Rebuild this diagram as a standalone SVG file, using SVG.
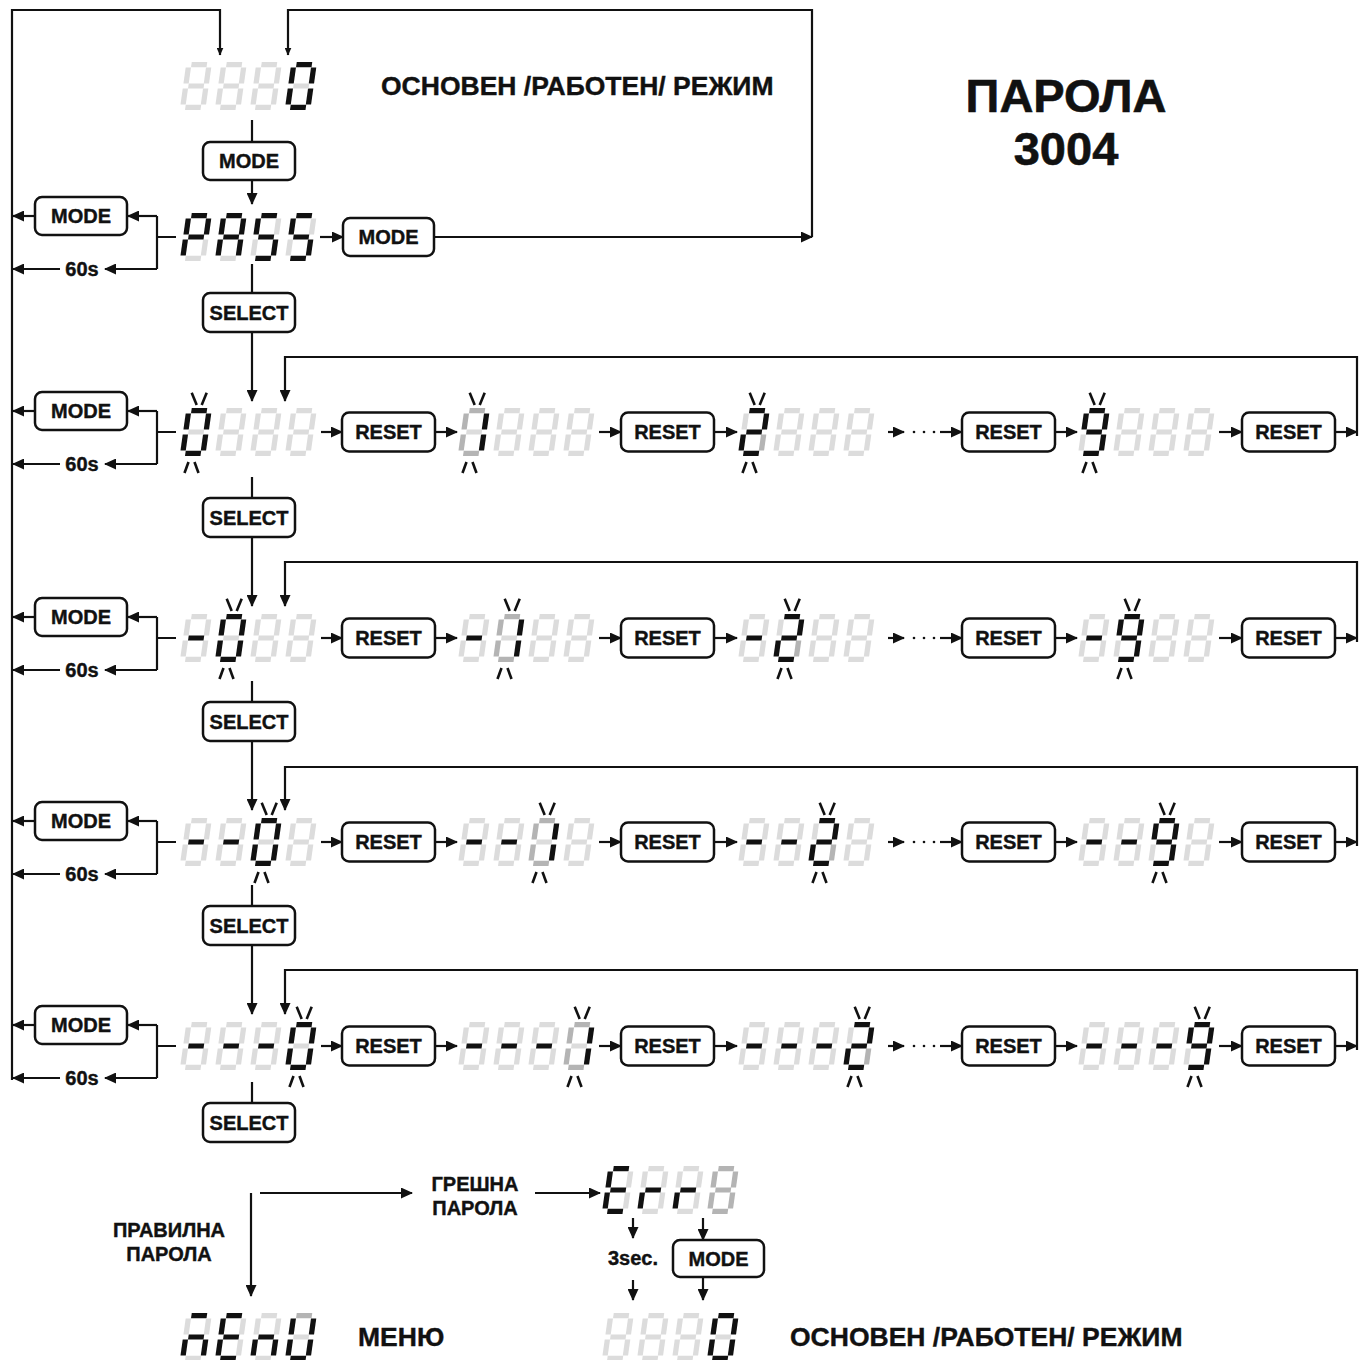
<svg xmlns="http://www.w3.org/2000/svg" width="1366" height="1360" viewBox="0 0 1366 1360">
<style>
.K{fill:#111}
.L{fill:#dcdcdc}
.M{fill:#b4b4b4}
.box{fill:#fff;stroke:#111;stroke-width:2.5}
.t{font-family:"Liberation Sans",Arial,sans-serif;font-weight:bold;font-size:20px;fill:#111;stroke:#111;stroke-width:0.4;text-anchor:middle}
.big{font-size:26.5px;text-anchor:start}
.title{font-size:47px;stroke-width:0.6}
.c{fill:none;stroke:#111;stroke-width:2.2}
.a{marker-end:url(#ah)}
.s{marker-end:url(#as)}
</style>
<defs>
<marker id="ah" viewBox="0 0 12 11" refX="11" refY="5.5" markerWidth="12" markerHeight="11" markerUnits="userSpaceOnUse" orient="auto"><path d="M0,0 L12,5.5 L0,11 z" fill="#111"/></marker>
<marker id="as" viewBox="0 0 8 7" refX="7.5" refY="3.5" markerWidth="8" markerHeight="7" markerUnits="userSpaceOnUse" orient="auto"><path d="M0,0 L8,3.5 L0,7 z" fill="#111"/></marker>
<rect id="sa" x="5" y="0" width="15.5" height="5.2"/>
<rect id="sb" x="20" y="5.5" width="5.3" height="16"/>
<rect id="sc" x="20" y="26.5" width="5.3" height="16"/>
<rect id="sd" x="5" y="42.8" width="15.5" height="5.2"/>
<rect id="se" x="-0.3" y="26.5" width="5.3" height="16"/>
<rect id="sf" x="-0.3" y="5.5" width="5.3" height="16"/>
<rect id="sg" x="5" y="21.4" width="15.5" height="5.2"/>
<g id="c8" transform="translate(6.75,0) skewX(-8)"><use href="#sa" class="L"/><use href="#sb" class="L"/><use href="#sc" class="L"/><use href="#sd" class="L"/><use href="#se" class="L"/><use href="#sf" class="L"/><use href="#sg" class="L"/></g>
<g id="c8m" transform="translate(6.75,0) skewX(-8)"><use href="#sa" class="M"/><use href="#sb" class="M"/><use href="#sc" class="M"/><use href="#sd" class="M"/><use href="#se" class="M"/><use href="#sf" class="M"/><use href="#sg" class="M"/></g>
<g id="c0" transform="translate(6.75,0) skewX(-8)"><use href="#sa" class="K"/><use href="#sb" class="K"/><use href="#sc" class="K"/><use href="#sd" class="K"/><use href="#se" class="K"/><use href="#sf" class="K"/><use href="#sg" class="L"/></g>
<g id="c1" transform="translate(6.75,0) skewX(-8)"><use href="#sa" class="M"/><use href="#sb" class="K"/><use href="#sc" class="K"/><use href="#sd" class="M"/><use href="#se" class="M"/><use href="#sf" class="M"/><use href="#sg" class="L"/></g>
<g id="c2" transform="translate(6.75,0) skewX(-8)"><use href="#sa" class="K"/><use href="#sb" class="K"/><use href="#sc" class="M"/><use href="#sd" class="K"/><use href="#se" class="K"/><use href="#sf" class="L"/><use href="#sg" class="K"/></g>
<g id="c9" transform="translate(6.75,0) skewX(-8)"><use href="#sa" class="K"/><use href="#sb" class="K"/><use href="#sc" class="K"/><use href="#sd" class="K"/><use href="#se" class="L"/><use href="#sf" class="K"/><use href="#sg" class="K"/></g>
<g id="cm" transform="translate(6.75,0) skewX(-8)"><use href="#sa" class="L"/><use href="#sb" class="L"/><use href="#sc" class="L"/><use href="#sd" class="L"/><use href="#se" class="L"/><use href="#sf" class="L"/><use href="#sg" class="K"/></g>
<g id="cP" transform="translate(6.75,0) skewX(-8)"><use href="#sa" class="K"/><use href="#sb" class="K"/><use href="#sc" class="L"/><use href="#sd" class="L"/><use href="#se" class="K"/><use href="#sf" class="K"/><use href="#sg" class="K"/></g>
<g id="cA" transform="translate(6.75,0) skewX(-8)"><use href="#sa" class="K"/><use href="#sb" class="K"/><use href="#sc" class="K"/><use href="#sd" class="L"/><use href="#se" class="K"/><use href="#sf" class="K"/><use href="#sg" class="K"/></g>
<g id="cS" transform="translate(6.75,0) skewX(-8)"><use href="#sa" class="K"/><use href="#sb" class="L"/><use href="#sc" class="K"/><use href="#sd" class="K"/><use href="#se" class="L"/><use href="#sf" class="K"/><use href="#sg" class="K"/></g>
<g id="cE" transform="translate(6.75,0) skewX(-8)"><use href="#sa" class="K"/><use href="#sb" class="L"/><use href="#sc" class="L"/><use href="#sd" class="K"/><use href="#se" class="K"/><use href="#sf" class="K"/><use href="#sg" class="K"/></g>
<g id="cr" transform="translate(6.75,0) skewX(-8)"><use href="#sa" class="L"/><use href="#sb" class="L"/><use href="#sc" class="L"/><use href="#sd" class="L"/><use href="#se" class="K"/><use href="#sf" class="L"/><use href="#sg" class="K"/></g>
<g id="cN1" transform="translate(6.75,0) skewX(-8)"><use href="#sa" class="K"/><use href="#sb" class="L"/><use href="#sc" class="K"/><use href="#sd" class="L"/><use href="#se" class="K"/><use href="#sf" class="L"/><use href="#sg" class="K"/></g>
<g id="cN" transform="translate(6.75,0) skewX(-8)"><use href="#sa" class="L"/><use href="#sb" class="L"/><use href="#sc" class="K"/><use href="#sd" class="L"/><use href="#se" class="K"/><use href="#sf" class="L"/><use href="#sg" class="K"/></g>
<g id="cU" transform="translate(6.75,0) skewX(-8)"><use href="#sa" class="M"/><use href="#sb" class="K"/><use href="#sc" class="K"/><use href="#sd" class="K"/><use href="#se" class="K"/><use href="#sf" class="K"/><use href="#sg" class="L"/></g>
<g id="blink" stroke="#111" stroke-width="2.6" fill="none">
<line x1="11.7" y1="-15.3" x2="16.7" y2="-3"/><line x1="26.7" y1="-15.3" x2="21.7" y2="-3"/>
<line x1="4.5" y1="65" x2="8.5" y2="54"/><line x1="18.5" y1="65" x2="14.5" y2="54"/>
</g>
</defs>
<rect width="1366" height="1360" fill="#fff"/>

<g id="connectors" class="c">
<path class="s" d="M12,1080 V10 H220 V55"/>
<path class="s" d="M812,237 V10 H288 V55"/>
<line x1="252" y1="120" x2="252" y2="142"/>
<line class="a" x1="252" y1="180" x2="252" y2="204"/>
<line class="a" x1="320" y1="237" x2="343" y2="237"/>
<line class="a" x1="434" y1="237" x2="812" y2="237"/>
<path d="M176,237 H157 M157,216 V269"/>
<line class="a" x1="157" y1="216" x2="128" y2="216"/><line class="a" x1="157" y1="269" x2="105" y2="269"/>
<line class="a" x1="35" y1="216" x2="13" y2="216"/><line class="a" x1="60" y1="269" x2="13" y2="269"/>
<path d="M176,432 H157 M157,411 V464"/>
<line class="a" x1="157" y1="411" x2="128" y2="411"/><line class="a" x1="157" y1="464" x2="105" y2="464"/>
<line class="a" x1="35" y1="411" x2="13" y2="411"/><line class="a" x1="60" y1="464" x2="13" y2="464"/>
<path d="M176,638 H157 M157,617 V670"/>
<line class="a" x1="157" y1="617" x2="128" y2="617"/><line class="a" x1="157" y1="670" x2="105" y2="670"/>
<line class="a" x1="35" y1="617" x2="13" y2="617"/><line class="a" x1="60" y1="670" x2="13" y2="670"/>
<path d="M176,842 H157 M157,821 V874"/>
<line class="a" x1="157" y1="821" x2="128" y2="821"/><line class="a" x1="157" y1="874" x2="105" y2="874"/>
<line class="a" x1="35" y1="821" x2="13" y2="821"/><line class="a" x1="60" y1="874" x2="13" y2="874"/>
<path d="M176,1046 H157 M157,1025 V1078"/>
<line class="a" x1="157" y1="1025" x2="128" y2="1025"/><line class="a" x1="157" y1="1078" x2="105" y2="1078"/>
<line class="a" x1="35" y1="1025" x2="13" y2="1025"/><line class="a" x1="60" y1="1078" x2="13" y2="1078"/>
<line x1="252" y1="264" x2="252" y2="293"/>
<line class="a" x1="252" y1="332" x2="252" y2="401"/>
<line x1="252" y1="477" x2="252" y2="498"/>
<line class="a" x1="252" y1="537" x2="252" y2="606"/>
<line x1="252" y1="681" x2="252" y2="702"/>
<line class="a" x1="252" y1="741" x2="252" y2="810"/>
<line x1="252" y1="885" x2="252" y2="906"/>
<line class="a" x1="252" y1="945" x2="252" y2="1014"/>
<line x1="252" y1="1082" x2="252" y2="1103"/>
<g id="row-arrows-1">
<line class="a" x1="321" y1="432" x2="342" y2="432"/><line class="a" x1="435" y1="432" x2="457" y2="432"/>
<line class="a" x1="599" y1="432" x2="621" y2="432"/><line class="a" x1="714" y1="432" x2="737" y2="432"/>
<line class="a" x1="888" y1="432" x2="904" y2="432"/><line class="a" x1="940" y1="432" x2="962" y2="432"/>
<line class="a" x1="1055" y1="432" x2="1077" y2="432"/><line class="a" x1="1219" y1="432" x2="1242" y2="432"/>
<line class="a" x1="1335" y1="432" x2="1357" y2="432"/>
<path class="a" d="M1357,436 V357 H285 V401"/>
</g>
<g id="row-arrows-2">
<line class="a" x1="321" y1="638" x2="342" y2="638"/><line class="a" x1="435" y1="638" x2="457" y2="638"/>
<line class="a" x1="599" y1="638" x2="621" y2="638"/><line class="a" x1="714" y1="638" x2="737" y2="638"/>
<line class="a" x1="888" y1="638" x2="904" y2="638"/><line class="a" x1="940" y1="638" x2="962" y2="638"/>
<line class="a" x1="1055" y1="638" x2="1077" y2="638"/><line class="a" x1="1219" y1="638" x2="1242" y2="638"/>
<line class="a" x1="1335" y1="638" x2="1357" y2="638"/>
<path class="a" d="M1357,642 V562 H285 V606"/>
</g>
<g id="row-arrows-3">
<line class="a" x1="321" y1="842" x2="342" y2="842"/><line class="a" x1="435" y1="842" x2="457" y2="842"/>
<line class="a" x1="599" y1="842" x2="621" y2="842"/><line class="a" x1="714" y1="842" x2="737" y2="842"/>
<line class="a" x1="888" y1="842" x2="904" y2="842"/><line class="a" x1="940" y1="842" x2="962" y2="842"/>
<line class="a" x1="1055" y1="842" x2="1077" y2="842"/><line class="a" x1="1219" y1="842" x2="1242" y2="842"/>
<line class="a" x1="1335" y1="842" x2="1357" y2="842"/>
<path class="a" d="M1357,846 V767 H285 V810"/>
</g>
<g id="row-arrows-4">
<line class="a" x1="321" y1="1046" x2="342" y2="1046"/><line class="a" x1="435" y1="1046" x2="457" y2="1046"/>
<line class="a" x1="599" y1="1046" x2="621" y2="1046"/><line class="a" x1="714" y1="1046" x2="737" y2="1046"/>
<line class="a" x1="888" y1="1046" x2="904" y2="1046"/><line class="a" x1="940" y1="1046" x2="962" y2="1046"/>
<line class="a" x1="1055" y1="1046" x2="1077" y2="1046"/><line class="a" x1="1219" y1="1046" x2="1242" y2="1046"/>
<line class="a" x1="1335" y1="1046" x2="1357" y2="1046"/>
<path class="a" d="M1357,1050 V970 H285 V1014"/>
</g>
<g id="dots" fill="#111" stroke="none">
<circle cx="914" cy="432" r="1.3"/><circle cx="924" cy="432" r="1.3"/><circle cx="934" cy="432" r="1.3"/>
<circle cx="914" cy="638" r="1.3"/><circle cx="924" cy="638" r="1.3"/><circle cx="934" cy="638" r="1.3"/>
<circle cx="914" cy="842" r="1.3"/><circle cx="924" cy="842" r="1.3"/><circle cx="934" cy="842" r="1.3"/>
<circle cx="914" cy="1046" r="1.3"/><circle cx="924" cy="1046" r="1.3"/><circle cx="934" cy="1046" r="1.3"/>
</g>
<line class="a" x1="251" y1="1193" x2="251" y2="1296"/>
<line class="a" x1="260" y1="1193" x2="412" y2="1193"/>
<line class="a" x1="535" y1="1193" x2="600" y2="1193"/>
<line class="a" x1="633" y1="1218" x2="633" y2="1238"/>
<line class="a" x1="703" y1="1218" x2="703" y2="1240"/>
<line class="a" x1="633" y1="1280" x2="633" y2="1300"/>
<line class="a" x1="703" y1="1277" x2="703" y2="1300"/>
</g>

<g id="title">
<text class="t title" x="1066" y="112">ПАРОЛА</text>
<text class="t title" x="1066" y="165">3004</text>
</g>

<g id="disp-main">
<use href="#c8" x="180" y="62"/><use href="#c8" x="215" y="62"/><use href="#c8" x="250" y="62"/><use href="#c0" x="285" y="62"/>
<text class="t big" x="381" y="95">ОСНОВЕН /РАБОТЕН/ РЕЖИМ</text>
</g>
<g id="btn-mode-top"><rect class="box" x="203" y="142" width="92" height="38" rx="7"/><text class="t" x="249" y="168">MODE</text></g>

<g id="disp-pass">
<use href="#cP" x="180" y="213"/><use href="#cA" x="215" y="213"/><use href="#cS" x="250" y="213"/><use href="#cS" x="285" y="213"/>
</g>
<g id="btn-mode-pass"><rect class="box" x="343" y="218" width="91" height="38" rx="7"/><text class="t" x="388.5" y="244">MODE</text></g>

<g id="left-pass"><rect class="box" x="35" y="197" width="92" height="38" rx="7"/><text class="t" x="81" y="223">MODE</text><text class="t" x="82" y="276">60s</text></g>
<g id="left-r1"><rect class="box" x="35" y="392" width="92" height="38" rx="7"/><text class="t" x="81" y="418">MODE</text><text class="t" x="82" y="471">60s</text></g>
<g id="left-r2"><rect class="box" x="35" y="598" width="92" height="38" rx="7"/><text class="t" x="81" y="624">MODE</text><text class="t" x="82" y="677">60s</text></g>
<g id="left-r3"><rect class="box" x="35" y="802" width="92" height="38" rx="7"/><text class="t" x="81" y="828">MODE</text><text class="t" x="82" y="881">60s</text></g>
<g id="left-r4"><rect class="box" x="35" y="1006" width="92" height="38" rx="7"/><text class="t" x="81" y="1032">MODE</text><text class="t" x="82" y="1085">60s</text></g>

<g id="sel-1"><rect class="box" x="203" y="293" width="92" height="39" rx="7"/><text class="t" x="249" y="319.5">SELECT</text></g>
<g id="sel-2"><rect class="box" x="203" y="498" width="92" height="39" rx="7"/><text class="t" x="249" y="524.5">SELECT</text></g>
<g id="sel-3"><rect class="box" x="203" y="702" width="92" height="39" rx="7"/><text class="t" x="249" y="728.5">SELECT</text></g>
<g id="sel-4"><rect class="box" x="203" y="906" width="92" height="39" rx="7"/><text class="t" x="249" y="932.5">SELECT</text></g>
<g id="sel-5"><rect class="box" x="203" y="1103" width="92" height="39" rx="7"/><text class="t" x="249" y="1129.5">SELECT</text></g>

<g id="row1">
<g id="r1-d1"><use href="#c0" x="180" y="408"/><use href="#c8" x="215" y="408"/><use href="#c8" x="250" y="408"/><use href="#c8" x="285" y="408"/><use href="#blink" x="180" y="408"/></g>
<g id="r1-d2"><use href="#c1" x="458" y="408"/><use href="#c8" x="493" y="408"/><use href="#c8" x="528" y="408"/><use href="#c8" x="563" y="408"/><use href="#blink" x="458" y="408"/></g>
<g id="r1-d3"><use href="#c2" x="738" y="408"/><use href="#c8" x="773" y="408"/><use href="#c8" x="808" y="408"/><use href="#c8" x="843" y="408"/><use href="#blink" x="738" y="408"/></g>
<g id="r1-d4"><use href="#c9" x="1078" y="408"/><use href="#c8" x="1113" y="408"/><use href="#c8" x="1148" y="408"/><use href="#c8" x="1183" y="408"/><use href="#blink" x="1078" y="408"/></g>
<g id="r1-b1"><rect class="box" x="342" y="412.5" width="93" height="39" rx="7"/><text class="t" x="388.5" y="439">RESET</text></g>
<g id="r1-b2"><rect class="box" x="621" y="412.5" width="93" height="39" rx="7"/><text class="t" x="667.5" y="439">RESET</text></g>
<g id="r1-b3"><rect class="box" x="962" y="412.5" width="93" height="39" rx="7"/><text class="t" x="1008.5" y="439">RESET</text></g>
<g id="r1-b4"><rect class="box" x="1242" y="412.5" width="93" height="39" rx="7"/><text class="t" x="1288.5" y="439">RESET</text></g>
</g>

<g id="row2">
<g id="r2-d1"><use href="#cm" x="180" y="614"/><use href="#c0" x="215" y="614"/><use href="#c8" x="250" y="614"/><use href="#c8" x="285" y="614"/><use href="#blink" x="215" y="614"/></g>
<g id="r2-d2"><use href="#cm" x="458" y="614"/><use href="#c1" x="493" y="614"/><use href="#c8" x="528" y="614"/><use href="#c8" x="563" y="614"/><use href="#blink" x="493" y="614"/></g>
<g id="r2-d3"><use href="#cm" x="738" y="614"/><use href="#c2" x="773" y="614"/><use href="#c8" x="808" y="614"/><use href="#c8" x="843" y="614"/><use href="#blink" x="773" y="614"/></g>
<g id="r2-d4"><use href="#cm" x="1078" y="614"/><use href="#c9" x="1113" y="614"/><use href="#c8" x="1148" y="614"/><use href="#c8" x="1183" y="614"/><use href="#blink" x="1113" y="614"/></g>
<g id="r2-b1"><rect class="box" x="342" y="618.5" width="93" height="39" rx="7"/><text class="t" x="388.5" y="645">RESET</text></g>
<g id="r2-b2"><rect class="box" x="621" y="618.5" width="93" height="39" rx="7"/><text class="t" x="667.5" y="645">RESET</text></g>
<g id="r2-b3"><rect class="box" x="962" y="618.5" width="93" height="39" rx="7"/><text class="t" x="1008.5" y="645">RESET</text></g>
<g id="r2-b4"><rect class="box" x="1242" y="618.5" width="93" height="39" rx="7"/><text class="t" x="1288.5" y="645">RESET</text></g>
</g>

<g id="row3">
<g id="r3-d1"><use href="#cm" x="180" y="818"/><use href="#cm" x="215" y="818"/><use href="#c0" x="250" y="818"/><use href="#c8" x="285" y="818"/><use href="#blink" x="250" y="818"/></g>
<g id="r3-d2"><use href="#cm" x="458" y="818"/><use href="#cm" x="493" y="818"/><use href="#c1" x="528" y="818"/><use href="#c8" x="563" y="818"/><use href="#blink" x="528" y="818"/></g>
<g id="r3-d3"><use href="#cm" x="738" y="818"/><use href="#cm" x="773" y="818"/><use href="#c2" x="808" y="818"/><use href="#c8" x="843" y="818"/><use href="#blink" x="808" y="818"/></g>
<g id="r3-d4"><use href="#cm" x="1078" y="818"/><use href="#cm" x="1113" y="818"/><use href="#c9" x="1148" y="818"/><use href="#c8" x="1183" y="818"/><use href="#blink" x="1148" y="818"/></g>
<g id="r3-b1"><rect class="box" x="342" y="822.5" width="93" height="39" rx="7"/><text class="t" x="388.5" y="849">RESET</text></g>
<g id="r3-b2"><rect class="box" x="621" y="822.5" width="93" height="39" rx="7"/><text class="t" x="667.5" y="849">RESET</text></g>
<g id="r3-b3"><rect class="box" x="962" y="822.5" width="93" height="39" rx="7"/><text class="t" x="1008.5" y="849">RESET</text></g>
<g id="r3-b4"><rect class="box" x="1242" y="822.5" width="93" height="39" rx="7"/><text class="t" x="1288.5" y="849">RESET</text></g>
</g>

<g id="row4">
<g id="r4-d1"><use href="#cm" x="180" y="1022"/><use href="#cm" x="215" y="1022"/><use href="#cm" x="250" y="1022"/><use href="#c0" x="285" y="1022"/><use href="#blink" x="285" y="1022"/></g>
<g id="r4-d2"><use href="#cm" x="458" y="1022"/><use href="#cm" x="493" y="1022"/><use href="#cm" x="528" y="1022"/><use href="#c1" x="563" y="1022"/><use href="#blink" x="563" y="1022"/></g>
<g id="r4-d3"><use href="#cm" x="738" y="1022"/><use href="#cm" x="773" y="1022"/><use href="#cm" x="808" y="1022"/><use href="#c2" x="843" y="1022"/><use href="#blink" x="843" y="1022"/></g>
<g id="r4-d4"><use href="#cm" x="1078" y="1022"/><use href="#cm" x="1113" y="1022"/><use href="#cm" x="1148" y="1022"/><use href="#c9" x="1183" y="1022"/><use href="#blink" x="1183" y="1022"/></g>
<g id="r4-b1"><rect class="box" x="342" y="1026.5" width="93" height="39" rx="7"/><text class="t" x="388.5" y="1053">RESET</text></g>
<g id="r4-b2"><rect class="box" x="621" y="1026.5" width="93" height="39" rx="7"/><text class="t" x="667.5" y="1053">RESET</text></g>
<g id="r4-b3"><rect class="box" x="962" y="1026.5" width="93" height="39" rx="7"/><text class="t" x="1008.5" y="1053">RESET</text></g>
<g id="r4-b4"><rect class="box" x="1242" y="1026.5" width="93" height="39" rx="7"/><text class="t" x="1288.5" y="1053">RESET</text></g>
</g>

<g id="lbl-wrong"><text class="t" x="475" y="1191">ГРЕШНА</text><text class="t" x="475" y="1215">ПАРОЛА</text></g>
<g id="lbl-right"><text class="t" x="169" y="1237">ПРАВИЛНА</text><text class="t" x="169" y="1261">ПАРОЛА</text></g>
<g id="disp-err"><use href="#cE" x="602" y="1166"/><use href="#cr" x="637" y="1166"/><use href="#cr" x="672" y="1166"/><use href="#c8m" x="707" y="1166"/></g>
<g id="lbl-3sec"><text class="t" x="633" y="1265">3sec.</text></g>
<g id="btn-mode-err"><rect class="box" x="673" y="1240" width="91" height="37" rx="7"/><text class="t" x="718.5" y="1265.5">MODE</text></g>
<g id="disp-menu"><use href="#cN1" x="180" y="1313"/><use href="#cE" x="215" y="1313"/><use href="#cN" x="250" y="1313"/><use href="#cU" x="285" y="1313"/>
<text class="t big" x="358" y="1346">МЕНЮ</text></g>
<g id="disp-main-2"><use href="#c8" x="602" y="1313"/><use href="#c8" x="637" y="1313"/><use href="#c8" x="672" y="1313"/><use href="#c0" x="707" y="1313"/>
<text class="t big" x="790" y="1346">ОСНОВЕН /РАБОТЕН/ РЕЖИМ</text></g>
</svg>
